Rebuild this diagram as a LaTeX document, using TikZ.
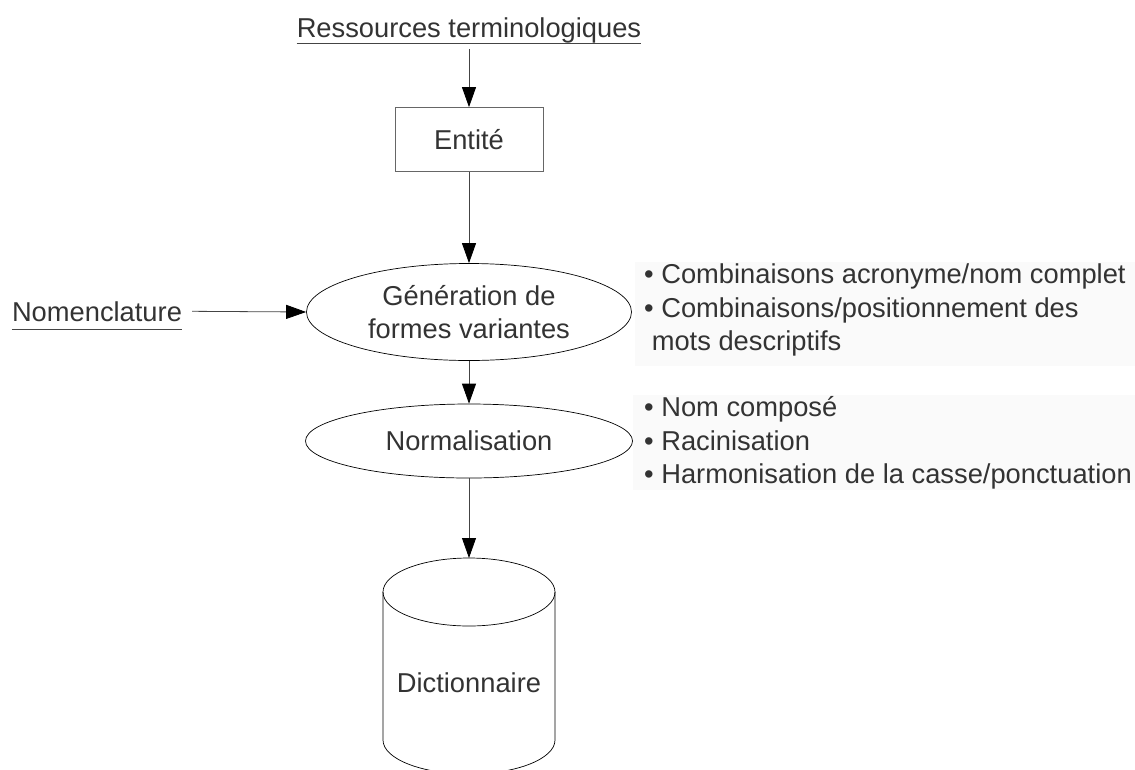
\documentclass[tikz,border=0pt]{standalone}
\usepackage{fontspec}
\setmainfont{Liberation Sans}
\usetikzlibrary{arrows.meta,shapes.geometric}
\definecolor{texte}{HTML}{333333}
\definecolor{trait}{HTML}{444444}
\definecolor{fond}{HTML}{FAFAFA}
\tikzset{
    every node/.style={text=texte, font=\fontsize{27.3}{33.5}\selectfont},
    fleche/.style={draw=trait, line width=0.8pt, -{Triangle[length=20pt, width=14pt, black]}},
    source/.style={inner xsep=0pt, inner ysep=1pt, anchor=base},
    etape/.style={ellipse, draw=black, line width=0.7pt, inner sep=0pt, align=center},
    liste/.style={align=left, anchor=west, inner sep=0pt}
}
\begin{document}
\begin{tikzpicture}[x=1pt, y=-1pt]
        \useasboundingbox (0,0) rectangle (1135,769);
        \clip (0,0) rectangle (1135,769);

        % Sources
        \node[source] (res) at (469,37) {Ressources terminologiques};
        \draw[trait, line width=0.8pt] (res.south west) -- (res.south east);
        \node[source, inner ysep=8pt] (nom) at (97,321) {Nomenclature};
        \draw[trait, line width=0.8pt] (nom.south west) -- (nom.south east);

        \node[draw=black!60, line width=0.7pt, minimum width=148, minimum height=64] (ent) at (469,139.5) {Entité};
        \node[etape, minimum width=325, minimum height=97] (gen) at (469,312) {Génération de\\formes variantes};
        \node[etape, minimum width=327, minimum height=74] (norm) at (469,441) {Normalisation};

        % Dictionnaire
        \def\x{469}
        \def\y{592}
        \draw[black, line width=0.7pt] (\x,\y) ellipse [x radius=86, y radius=34];
        \draw[black, line width=0.7pt] (\x-86,\y) -- (\x-86,\y+148) arc[start angle=180, end angle=0, x radius=86, y radius=34] -- (\x+86,\y);
        \coordinate (dicotop) at (\x,\y-34);
        \node (dico) at (\x,683) {Dictionnaire};

        % Listes
        \fill[fond] (635,262) rectangle (1135,366);
        \node[liste] (combi) at (644,310) {• Combinaisons acronyme/nom complet\\• Combinaisons/positionnement des\\\ mots descriptifs};
        \fill[fond] (633,395) rectangle (1135,490);
        \node[liste] (trait) at (644,443) {• Nom composé\\• Racinisation\\• Harmonisation de la casse/ponctuation};

        \draw[fleche, shorten <=5pt] (res.south) -- (ent.north);
        \draw[fleche] (ent.south) -- (gen.north);
        \draw[fleche, shorten <=10pt] (nom.east) -- (gen.west);
        \draw[fleche] (gen.south) -- (norm.north);
        \draw[fleche] (norm.south) -- (dicotop);
    \end{tikzpicture}
\end{document}
